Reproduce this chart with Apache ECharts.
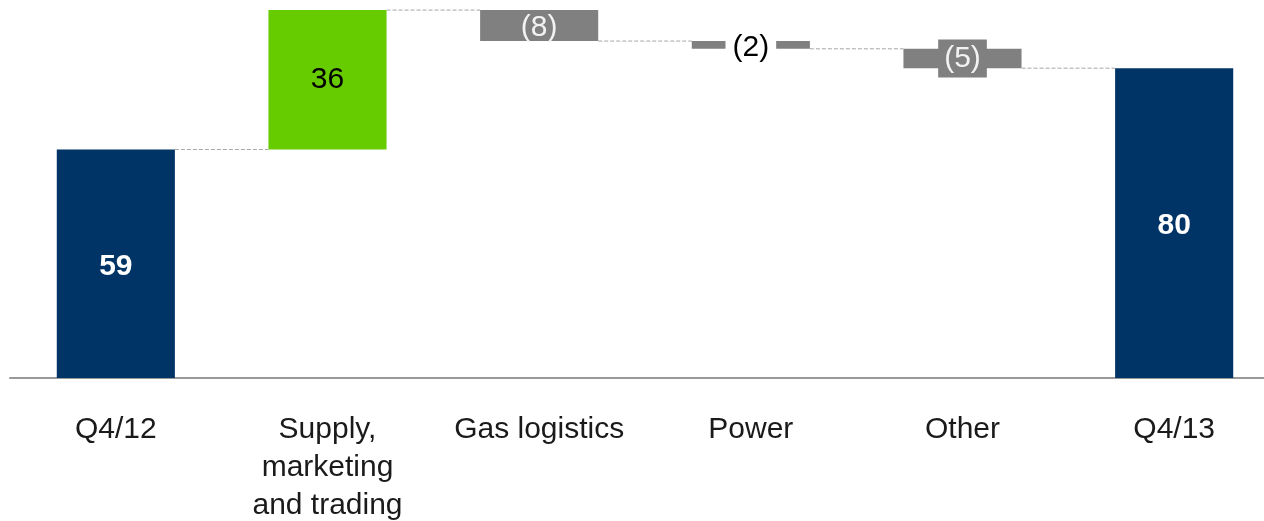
<!DOCTYPE html>
<html>
<head>
<meta charset="utf-8">
<style>
  html, body { margin: 0; padding: 0; background: #ffffff; }
  #chart { width: 1264px; height: 521px; }
</style>
<script src="https://cdn.jsdelivr.net/npm/echarts@6/dist/echarts.min.js"></script>
</head>
<body>
<div id="chart"></div>
<script>
// EBIT bridge, Q4/12 to Q4/13
const categories = ['Q4/12', 'Supply,\nmarketing\nand trading', 'Gas logistics', 'Power', 'Other', 'Q4/13'];
const changes = [59, 36, -8, -2, -5, 80];
const isTotal = [true, false, false, false, false, true];

const NAVY = '#003366';
const GREEN = '#66CC00';
const GREY = '#808080';
const FONT = '"Liberation Sans", Arial, sans-serif';

// floating base and visible height of each bar
const bases = [];
const heights = [];
const levels = []; // running level after each bar
let running = 0;
changes.forEach((v, i) => {
  if (isTotal[i]) {
    bases.push(0);
    heights.push(v);
    running = v;
  } else {
    const next = running + v;
    bases.push(Math.min(running, next));
    heights.push(Math.abs(v));
    running = next;
  }
  levels.push(running);
});

function labelText(v) {
  return v < 0 ? '(' + Math.abs(v) + ')' : String(v);
}

const barData = changes.map((v, i) => {
  let color, label;
  if (isTotal[i]) {
    color = NAVY;
    label = { color: '#ffffff', fontWeight: 'bold', offset: [0, 3] };
  } else if (v > 0) {
    color = GREEN;
    label = { color: '#000000' };
  } else {
    color = GREY;
    label = { color: '#f2f2f2', offset: [0, 2] };
  }
  // small decreases: label sits on a box wider than the bar height
  if (v < 0 && heights[i] < 3) {
    label = { color: '#000000', backgroundColor: '#ffffff', padding: [0, 7], offset: [0, 3] };
  } else if (v < 0 && heights[i] < 6) {
    label = { color: '#f2f2f2', backgroundColor: GREY, padding: [6, 6, 2, 6], lineHeight: 30 };
  }
  return { value: heights[i], itemStyle: { color }, label };
});

// dashed connectors between neighbouring bars at the running level
const connectorData = levels.slice(0, -1).map((lvl, i) => [i, lvl]);

const BAR_RATIO = 0.558;

const chart = echarts.init(document.getElementById('chart'), null, { renderer: 'canvas' });
chart.setOption({
  animation: false,
  textStyle: { fontFamily: FONT },
  grid: {
    left: 10, top: 0, width: 1270, bottom: 143,
    containLabel: false,
    outerBoundsMode: 'none'
  },
  xAxis: {
    type: 'category',
    data: categories,
    axisTick: { show: false },
    axisLine: { lineStyle: { color: '#999999', width: 2 } },
    axisLabel: {
      color: '#1a1a1a',
      fontSize: 30,
      lineHeight: 38,
      margin: 33,
      interval: 0,
      fontFamily: FONT
    }
  },
  yAxis: {
    type: 'value',
    min: 0,
    max: 97.6,
    show: false,
    splitLine: { show: false }
  },
  series: [
    {
      name: 'base',
      type: 'bar',
      stack: 'bridge',
      data: bases,
      barWidth: (BAR_RATIO * 100) + '%',
      itemStyle: { color: 'transparent' },
      emphasis: { disabled: true },
      silent: true
    },
    {
      name: 'change',
      type: 'bar',
      stack: 'bridge',
      data: barData,
      barWidth: (BAR_RATIO * 100) + '%',
      label: {
        show: true,
        position: 'inside',
        fontSize: 30,
        fontFamily: FONT,
        formatter: (p) => labelText(changes[p.dataIndex])
      },
      emphasis: { disabled: true }
    },
    {
      name: 'connectors',
      type: 'custom',
      data: connectorData,
      silent: true,
      z: 1,
      renderItem: function (params, api) {
        const i = api.value(0);
        const lvl = api.value(1);
        const band = api.size([1, 0])[0];
        const half = band * BAR_RATIO / 2;
        const p1 = api.coord([i, lvl]);
        const p2 = api.coord([i + 1, lvl]);
        return {
          type: 'line',
          shape: { x1: p1[0] + half, y1: p1[1], x2: p2[0] - half, y2: p2[1] },
          style: { stroke: '#a6a6a6', lineWidth: 1, lineDash: [4, 2] }
        };
      }
    }
  ]
});
</script>
</body>
</html>
